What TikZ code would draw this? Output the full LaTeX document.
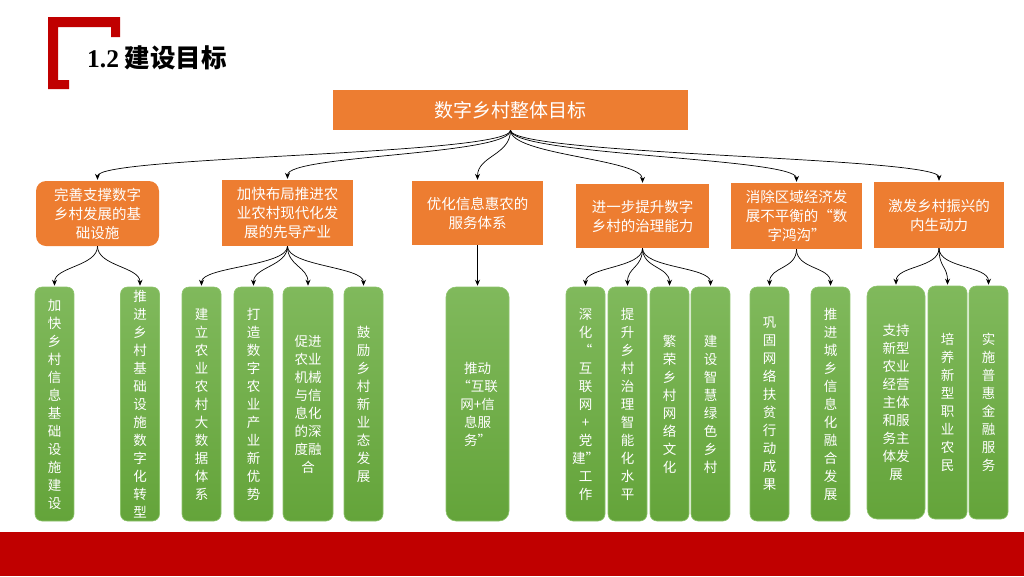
\documentclass[tikz,border=0pt]{standalone}
\usepackage{fontspec}
\setmainfont{Noto Sans CJK SC}
\newfontfamily\numfont{Liberation Serif}
\usetikzlibrary{arrows.meta}

\definecolor{boxorange}{HTML}{ED7D31}
\definecolor{barred}{HTML}{C00000}
\definecolor{leaftop}{HTML}{80B95C}
\definecolor{leafbot}{HTML}{64A43A}
\definecolor{leafedge}{HTML}{8DC46C}

\tikzset{
  goal/.style={fill=boxorange, text=white, font=\fontsize{14.5}{19}\selectfont, align=center, inner sep=0pt},
  leaf/.style={top color=leaftop, bottom color=leafbot, draw=leafedge, line width=0.6pt, rounded corners=7pt,
    minimum width=39pt, minimum height=234pt, text=white, font=\fontsize{13.5}{18}\selectfont, align=center, inner sep=0pt},
  link/.style={-{Stealth[length=6pt,width=5pt]}, line width=0.7pt, shorten >=1pt},
}

\begin{document}
\begin{tikzpicture}[x=1pt, y=-1pt]
        \useasboundingbox (0,0) rectangle (1024,576);

        % Header and bottom band
        \fill[barred] (48,17) -- (120,17) -- (120,37) -- (111,37) -- (111,27) -- (58,27) -- (58,80)
            -- (69,80) -- (69,89) -- (48,89) -- cycle;
        \node[anchor=west, font=\fontsize{25.5}{30}\selectfont\bfseries, inner sep=0pt] (title) at (87,58)
            {{\numfont 1.2} 建设目标};
        \fill[barred] (0,532) rectangle (1024,576);

        % Overall goal
        \node[goal, font=\fontsize{19}{22}\selectfont, minimum width=355pt, minimum height=40pt] (top) at (510.5,110) {数字乡村整体目标};

        % Second level
        \node[goal, rounded corners=10pt, minimum width=123pt, minimum height=65pt] (b1) at (97.5,213.5) {完善支撑数字\\乡村发展的基\\础设施};
        \node[goal, minimum width=131pt, minimum height=66pt] (b2) at (287.5,213) {加快布局推进农\\业农村现代化发\\展的先导产业};
        \node[goal, minimum width=131pt, minimum height=64pt] (b3) at (477.5,213) {优化信息惠农的\\服务体系};
        \node[goal, minimum width=133pt, minimum height=64pt] (b4) at (642.5,216) {进一步提升数字\\乡村的治理能力};
        \node[goal, minimum width=131pt, minimum height=66pt] (b5) at (796.5,216) {消除区域经济发\\展不平衡的“数\\字鸿沟”};
        \node[goal, minimum width=130pt, minimum height=66pt] (b6) at (939,215) {激发乡村振兴的\\内生动力};

        % Measures
        \node[leaf] (g1) at (54.5,404) {加\\快\\乡\\村\\信\\息\\基\\础\\设\\施\\建\\设};
        \node[leaf] (g2) at (140,404) {推\\进\\乡\\村\\基\\础\\设\\施\\数\\字\\化\\转\\型};
        \node[leaf] (g3) at (201.5,404) {建\\立\\农\\业\\农\\村\\大\\数\\据\\体\\系};
        \node[leaf] (g4) at (253.5,404) {打\\造\\数\\字\\农\\业\\产\\业\\新\\优\\势};
        \node[leaf, minimum width=50pt] (g5) at (308,404) {促进\\农业\\机械\\与信\\息化\\的深\\度融\\合};
        \node[leaf] (g6) at (363.5,404) {鼓\\励\\乡\\村\\新\\业\\态\\发\\展};
        \node[leaf, minimum width=63pt, rounded corners=10pt] (g7) at (477.5,404) {推动\\“互联\\网+信\\息服\\务”};
        \node[leaf] (g8) at (585.5,404) {深\\化\\“\\互\\联\\网\\+\\党\\建”\\工\\作};
        \node[leaf] (g9) at (627.5,404) {提\\升\\乡\\村\\治\\理\\智\\能\\化\\水\\平};
        \node[leaf] (g10) at (669.5,404) {繁\\荣\\乡\\村\\网\\络\\文\\化};
        \node[leaf] (g11) at (710.5,404) {建\\设\\智\\慧\\绿\\色\\乡\\村};
        \node[leaf] (g12) at (769.5,404) {巩\\固\\网\\络\\扶\\贫\\行\\动\\成\\果};
        \node[leaf] (g13) at (830.5,404) {推\\进\\城\\乡\\信\\息\\化\\融\\合\\发\\展};
        \node[leaf, minimum width=58pt, minimum height=233pt, rounded corners=10pt] (g14) at (896,402.5) {支持\\新型\\农业\\经营\\主体\\和服\\务主\\体发\\展};
        \node[leaf, minimum height=233pt] (g15) at (947.5,402.5) {培\\养\\新\\型\\职\\业\\农\\民};
        \node[leaf, minimum height=233pt] (g16) at (988.5,402.5) {实\\施\\普\\惠\\金\\融\\服\\务};

        % Links from the overall goal
        \draw[link] (top.south) .. controls +(0,25) and +(0,-25) .. (b1.north);
        \draw[link] (top.south) .. controls +(0,25) and +(0,-25) .. (b2.north);
        \draw[link] (top.south) .. controls +(0,25) and +(0,-25) .. (b3.north);
        \draw[link] (top.south) .. controls +(0,25) and +(0,-25) .. (b4.north);
        \draw[link] (top.south) .. controls +(0,25) and +(0,-25) .. (b5.north);
        \draw[link] (top.south) .. controls +(0,25) and +(0,-25) .. (b6.north);

        % Links to the measures
        \draw[link] (b1.south) .. controls +(0,20) and +(0,-20) .. (g1.north);
        \draw[link] (b1.south) .. controls +(0,20) and +(0,-20) .. (g2.north);
        \draw[link] (b2.south) .. controls +(0,20) and +(0,-20) .. (g3.north);
        \draw[link] (b2.south) .. controls +(0,20) and +(0,-20) .. (g4.north);
        \draw[link] (b2.south) .. controls +(0,20) and +(0,-20) .. (g5.north);
        \draw[link] (b2.south) .. controls +(0,20) and +(0,-20) .. (g6.north);
        \draw[link] (b3.south) -- (g7.north);
        \draw[link] (b4.south) .. controls +(0,20) and +(0,-20) .. (g8.north);
        \draw[link] (b4.south) .. controls +(0,20) and +(0,-20) .. (g9.north);
        \draw[link] (b4.south) .. controls +(0,20) and +(0,-20) .. (g10.north);
        \draw[link] (b4.south) .. controls +(0,20) and +(0,-20) .. (g11.north);
        \draw[link] (b5.south) .. controls +(0,20) and +(0,-20) .. (g12.north);
        \draw[link] (b5.south) .. controls +(0,20) and +(0,-20) .. (g13.north);
        \draw[link] (b6.south) .. controls +(0,20) and +(0,-20) .. (g14.north);
        \draw[link] (b6.south) .. controls +(0,20) and +(0,-20) .. (g15.north);
        \draw[link] (b6.south) .. controls +(0,20) and +(0,-20) .. (g16.north);
    \end{tikzpicture}
\end{document}
